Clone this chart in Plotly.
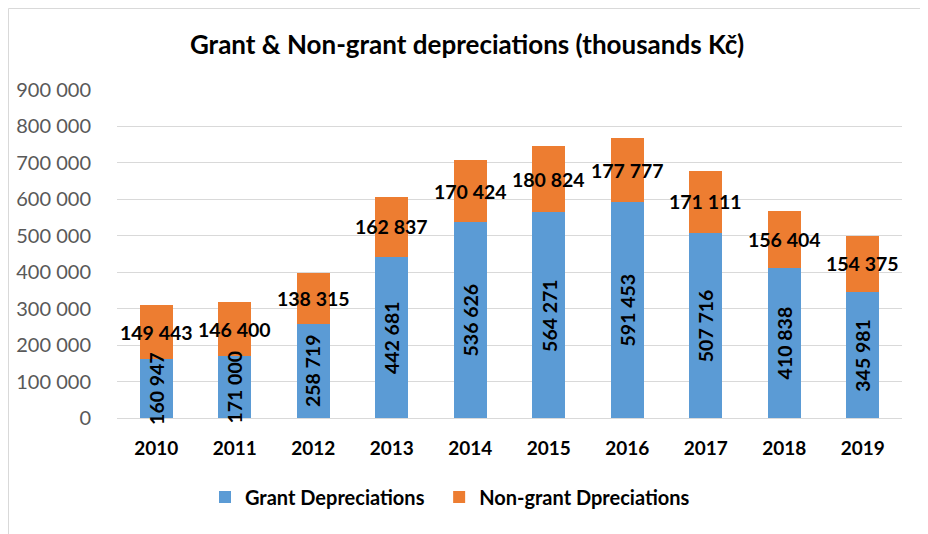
import plotly.graph_objects as go

years = ["2010", "2011", "2012", "2013", "2014", "2015", "2016", "2017", "2018", "2019"]
grant = [160947, 171000, 258719, 442681, 536626, 564271, 591453, 507716, 410838, 345981]
non_grant = [149443, 146400, 138315, 162837, 170424, 180824, 177777, 171111, 156404, 154375]
y_ticks = [0, 100000, 200000, 300000, 400000, 500000, 600000, 700000, 800000, 900000]

blue = "#5B9BD5"
orange = "#ED7D31"
font_family = "Lato, 'Open Sans', sans-serif"

# page has an 8px body margin, so figure is 920x526 and everything is shifted by 8px
W, H = 920, 526
L, T, R, B = 109, 82, 26, 116
pw, ph = W - L - R, H - T - B


def fmt(v):
    return f"{v:,}".replace(",", " ")


def bold(s):
    return "<b>%s</b>" % s


pos = list(range(len(years)))

fig = go.Figure()
fig.add_trace(go.Bar(x=pos, y=grant, name=bold("Grant Depreciations&nbsp;&nbsp;"), width=0.42,
                     marker=dict(color=blue, line=dict(width=0))))
fig.add_trace(go.Bar(x=pos, y=non_grant, name=bold("Non-grant Dpreciations"), width=0.42,
                     marker=dict(color=orange, line=dict(width=0))))

# value labels: grant rotated in the blue part, non-grant horizontal in the orange part
for i, g, n in zip(pos, grant, non_grant):
    fig.add_annotation(x=i, y=g / 2, text=bold(fmt(g)), textangle=-90, showarrow=False,
                       font=dict(family=font_family, size=19.5, color="black"))
    fig.add_annotation(x=i, y=g + n / 2, text=bold(fmt(n)), showarrow=False,
                       font=dict(family=font_family, size=19.5, color="black"))

fig.update_layout(
    barmode="stack",
    width=W, height=H,
    margin=dict(l=L, r=R, t=T, b=B, autoexpand=False),
    paper_bgcolor="white", plot_bgcolor="white",
    title=dict(text=bold("Grant & Non-grant depreciations (thousands Kč)"), x=(467 - 8) / W,
               xanchor="center", y=1 - 37 / H, yanchor="middle",
               font=dict(family=font_family, size=26, color="black")),
    xaxis=dict(range=[-0.5, 9.5], tickvals=pos, ticktext=[bold(y) for y in years],
               showgrid=False, showline=True, linecolor="#d9d9d9", linewidth=1,
               ticks="outside", ticklen=13, tickcolor="white",
               tickfont=dict(family=font_family, size=19, color="black")),
    yaxis=dict(range=[0, 900000], tickvals=y_ticks, ticktext=[fmt(v) for v in y_ticks],
               showgrid=True, gridcolor="#d9d9d9", gridwidth=1, zeroline=False, showline=False,
               ticks="outside", ticklen=21, tickcolor="white",
               tickfont=dict(family=font_family, size=20, color="#595959")),
    legend=dict(orientation="h", x=(197 - L) / pw, xanchor="left", y=-79 / ph, yanchor="middle",
                font=dict(family=font_family, size=20, color="black"),
                traceorder="normal"),
    shapes=[dict(type="rect", xref="paper", yref="paper",
                 x0=-(L - 0.5) / pw, x1=1 + (R + 10) / pw, y0=-(B + 10) / ph, y1=1 + (T - 0.5) / ph,
                 line=dict(color="#d9d9d9", width=1), layer="below")],
)

fig.write_html("out.html")
